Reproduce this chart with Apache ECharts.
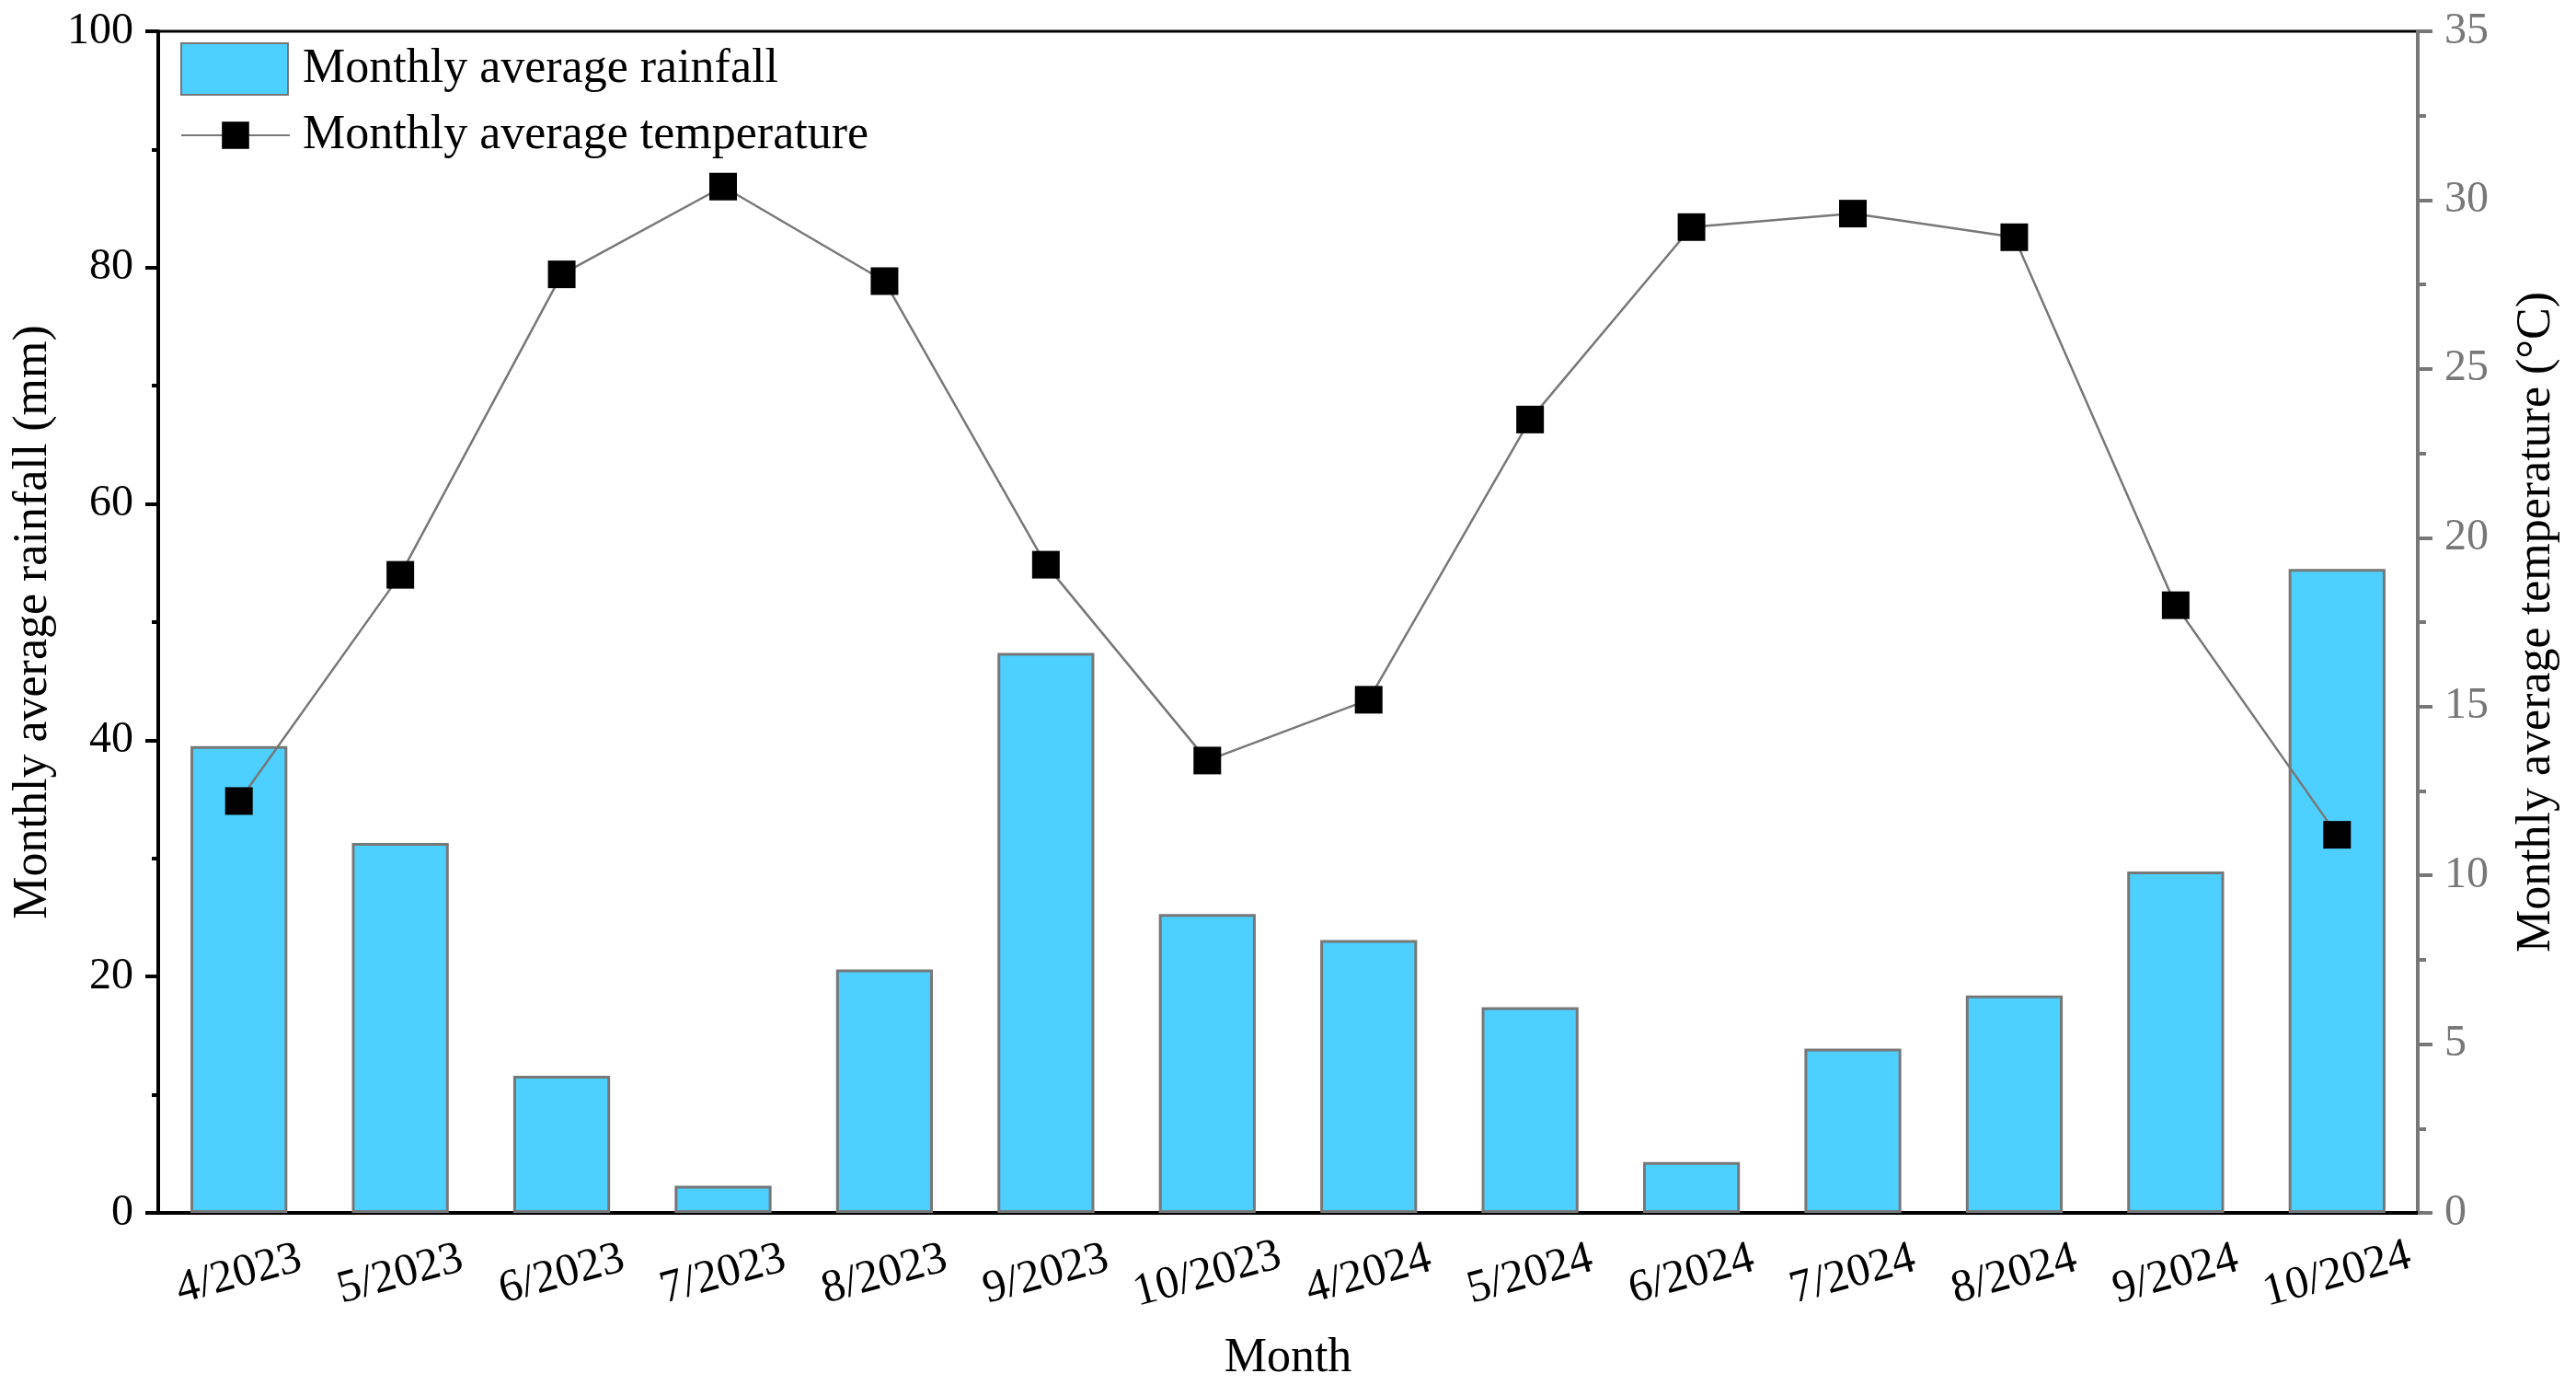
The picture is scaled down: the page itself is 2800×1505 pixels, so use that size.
<!DOCTYPE html>
<html><head><meta charset="utf-8">
<script src="https://cdn.jsdelivr.net/npm/echarts@6/dist/echarts.min.js"></script>
<style>html,body{margin:0;padding:0;background:#fff}#c{width:2800px;height:1505px}</style>
</head><body><div id="c"></div>
<script>
const categories = ['4/2023','5/2023','6/2023','7/2023','8/2023','9/2023','10/2023','4/2024','5/2024','6/2024','7/2024','8/2024','9/2024','10/2024'];
const rainfall = [39.5,31.3,11.6,2.3,20.6,47.4,25.3,23.1,17.4,4.3,13.9,18.4,28.9,54.5];
const temperature = [12.2,18.9,27.8,30.4,27.6,19.2,13.4,15.2,23.5,29.2,29.6,28.9,18.0,11.2];
const rainTicks = {min:0, max:100, interval:20};
const tempTicks = {min:0, max:35, interval:5};

const FONT = '"Liberation Serif", "Times New Roman", serif';
const chart = echarts.init(document.getElementById('c'));
chart.setOption({
  backgroundColor:'#fff',
  animation:false,
  grid:{left:172, right:172, top:34, bottom:187, outerBoundsMode:'none', containLabel:false,
        show:true, borderColor:'#000', borderWidth:3, backgroundColor:'transparent'},
  legend:[
    {left:196, top:46, padding:0, itemWidth:116, itemHeight:56, icon:'rect', data:['Monthly average rainfall'],
     textStyle:{fontSize:52, fontFamily:FONT, color:'#000', padding:[0,0,0,11]}},
    {left:196, top:121, padding:0, itemWidth:118, itemHeight:37, data:['Monthly average temperature'],
     textStyle:{fontSize:52, fontFamily:FONT, color:'#000', padding:[0,0,0,9]}}
  ],
  xAxis:{
    type:'category', data:categories, boundaryGap:true,
    name:'Month', nameLocation:'middle', nameGap:132,
    nameTextStyle:{fontSize:52, fontFamily:FONT, color:'#000'},
    axisLine:{lineStyle:{color:'#000', width:4}},
    axisTick:{alignWithLabel:true, length:13, lineStyle:{color:'#000', width:4}},
    axisLabel:{rotate:15, align:'center', verticalAlign:'middle', fontSize:50, fontFamily:FONT,
               color:'#000', margin:67, interval:0}
  },
  yAxis:[
    {type:'value', position:'left', min:rainTicks.min, max:rainTicks.max, interval:rainTicks.interval,
     name:'Monthly average rainfall (mm)', nameLocation:'middle', nameGap:94,
     nameTextStyle:{fontSize:52, fontFamily:FONT, color:'#000'},
     axisLine:{show:true, lineStyle:{color:'#000', width:4}},
     axisTick:{show:true, length:14, lineStyle:{color:'#000', width:4}},
     minorTick:{show:true, splitNumber:2, length:7, lineStyle:{color:'#000', width:4}},
     splitLine:{show:false},
     axisLabel:{fontSize:48, fontFamily:FONT, color:'#000', margin:27}},
    {type:'value', position:'right', min:tempTicks.min, max:tempTicks.max, interval:tempTicks.interval,
     name:'Monthly average temperature (°C)', nameLocation:'middle', nameGap:103,
     nameTextStyle:{fontSize:52, fontFamily:FONT, color:'#000'},
     axisLine:{show:true, lineStyle:{color:'#777', width:4}},
     axisTick:{show:true, length:16, lineStyle:{color:'#777', width:4}},
     minorTick:{show:true, splitNumber:2, length:9, lineStyle:{color:'#777', width:4}},
     splitLine:{show:false},
     axisLabel:{fontSize:48, fontFamily:FONT, color:'#777', margin:29}}
  ],
  series:[
    {name:'Monthly average rainfall', type:'bar', yAxisIndex:0, data:rainfall, barWidth:'60%',
     itemStyle:{color:'#4dd0ff', borderColor:'#777', borderWidth:3}},
    {name:'Monthly average temperature', type:'line', yAxisIndex:1, data:temperature,
     symbol:'rect', symbolSize:30, itemStyle:{color:'#000'},
     lineStyle:{color:'#777', width:2.5}}
  ]
});
</script></body></html>
